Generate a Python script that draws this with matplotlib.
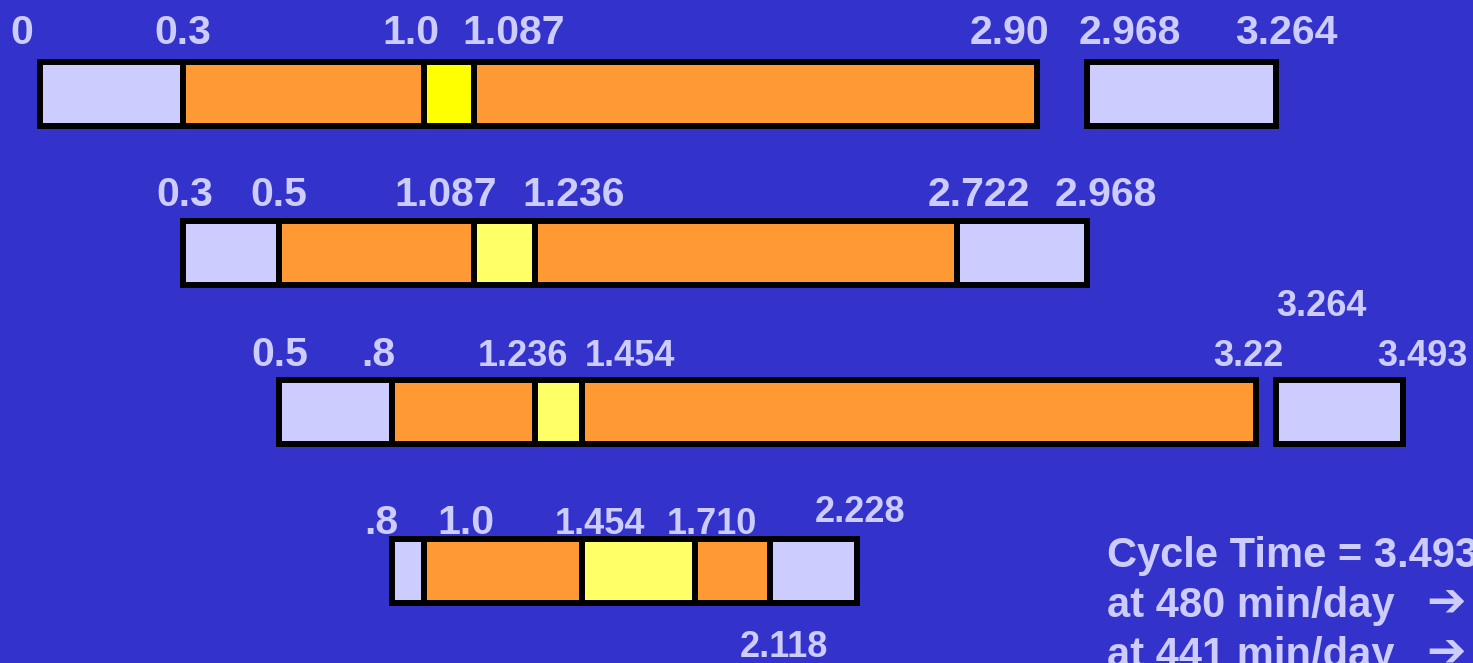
import numpy as np
import matplotlib
matplotlib.use("Agg")
import matplotlib.pyplot as plt

# ---------------- data ----------------
# one list of (start, end, kind) segments per station row
row1 = [(0.0, 0.3, "idle"), (0.3, 1.0, "work"), (1.0, 1.087, "move1"),
        (1.087, 2.90, "work"), (2.968, 3.264, "idle")]
row2 = [(0.3, 0.5, "idle"), (0.5, 1.087, "work"), (1.087, 1.236, "move"),
        (1.236, 2.722, "work"), (2.722, 2.968, "idle")]
row3 = [(0.5, 0.8, "idle"), (0.8, 1.236, "work"), (1.236, 1.454, "move"),
        (1.454, 3.22, "work"), (3.264, 3.493, "idle")]
row4 = [(0.8, 1.0, "idle"), (1.0, 1.454, "work"), (1.454, 1.710, "move"),
        (1.710, 2.118, "work"), (2.118, 2.228, "idle")]
rows = [row1, row2, row3, row4]

# time labels per row: (text, value)
labels1 = [("0", 0.0), ("0.3", 0.3), ("1.0", 1.0), ("1.087", 1.087),
           ("2.90", 2.90), ("2.968", 2.968), ("3.264", 3.264)]
labels2 = [("0.3", 0.3), ("0.5", 0.5), ("1.087", 1.087), ("1.236", 1.236),
           ("2.722", 2.722), ("2.968", 2.968)]
labels3 = [("0.5", 0.5), (".8", 0.8), ("1.236", 1.236), ("1.454", 1.454),
           ("3.22", 3.22), ("3.493", 3.493), ("3.264", 3.264)]
labels4 = [(".8", 0.8), ("1.0", 1.0), ("1.454", 1.454), ("1.710", 1.710),
           ("2.228", 2.228), ("2.118", 2.118)]
all_labels = [labels1, labels2, labels3, labels4]

notes = ["Cycle Time = 3.493", "at 480 min/day", "at 441 min/day"]
note_arrows = ["", "\u2794", "\u2794"]

# ---------------- layout / style ----------------
BG = "#3333CC"
TXT = "#CCCCFF"
colors = {"idle": "#CCCCFF", "work": "#FF9933", "move1": "#FFFF00", "move": "#FFFF66"}

# the original drawing is not to scale: piecewise axis (value -> pixel)
scale_vals = [-0.0839, 0.0, 0.3, 0.5, 0.8, 1.0, 1.087, 1.236, 1.454, 1.710,
              2.118, 2.228, 2.722, 2.90, 2.968, 3.22, 3.264, 3.493, 3.619]
scale_px = [0, 40, 183, 279, 392, 424, 474, 535, 582, 695,
            770, 857, 957, 1037, 1087, 1256, 1276, 1403, 1473]

# label offsets (dx, dy in pixels) and size
offs1 = [(-18, 50), (0, 50), (-13, 50), (40, 50), (-28, 50), (43, 50), (10, 50)]
offs2 = [(2, 47), (0, 47), (-28, 47), (39, 47), (22, 47), (19, 47)]
offs3 = [(1, 46), (-14, 46), (-12, 46), (48, 46), (-8, 46), (19, 46), (45, 96)]
offs4 = [(-11, 37), (42, 37), (18, 37), (17, 37), (3, 49), (14, -86)]
all_offs = [offs1, offs2, offs3, offs4]
sizes = [[29.5] * 7, [29.5] * 6,
         [29.5, 29.5, 26, 26, 26, 26, 26],
         [29.5, 29.5, 26, 26, 26, 26]]

plt.rcParams["font.family"] = ["Liberation Sans", "DejaVu Sans"]

fig = plt.figure(figsize=(14.73, 6.63), dpi=100, facecolor=BG)
ax = fig.add_axes([0, 0, 1, 1])
ax.set_facecolor(BG)

fwd = lambda v: np.interp(v, scale_vals, scale_px)
inv = lambda p: np.interp(p, scale_px, scale_vals)
ax.set_xscale("function", functions=(fwd, inv))
ax.set_xlim(scale_vals[0], scale_vals[-1])
ax.set_ylim(3.58, -0.59)
ax.axis("off")

for i, segs in enumerate(rows):
    for start, end, kind in segs:
        ax.barh(i, end - start, left=start, height=0.40, color=colors[kind],
                edgecolor="black", linewidth=4.3, zorder=2)

for i, labs in enumerate(all_labels):
    for (txt, val), (dx, dy), fs in zip(labs, all_offs[i], sizes[i]):
        ax.annotate(txt, (val, i), xytext=(dx, dy), textcoords="offset pixels",
                    ha="center", va="baseline", fontsize=fs, fontweight="bold",
                    color=TXT, annotation_clip=False)

for k, line in enumerate(notes):
    fig.text(1107 / 1473, (96 - 50 * k) / 663, line, ha="left", va="baseline",
             fontsize=30, fontweight="bold", color=TXT)
    if note_arrows[k]:
        fig.text(1426 / 1473, (96 - 50 * k) / 663, note_arrows[k], ha="left",
                 va="baseline", fontsize=34, fontweight="bold", color=TXT,
                 family=["DejaVu Sans"])

fig.savefig("out.png", dpi=100, facecolor=BG)
